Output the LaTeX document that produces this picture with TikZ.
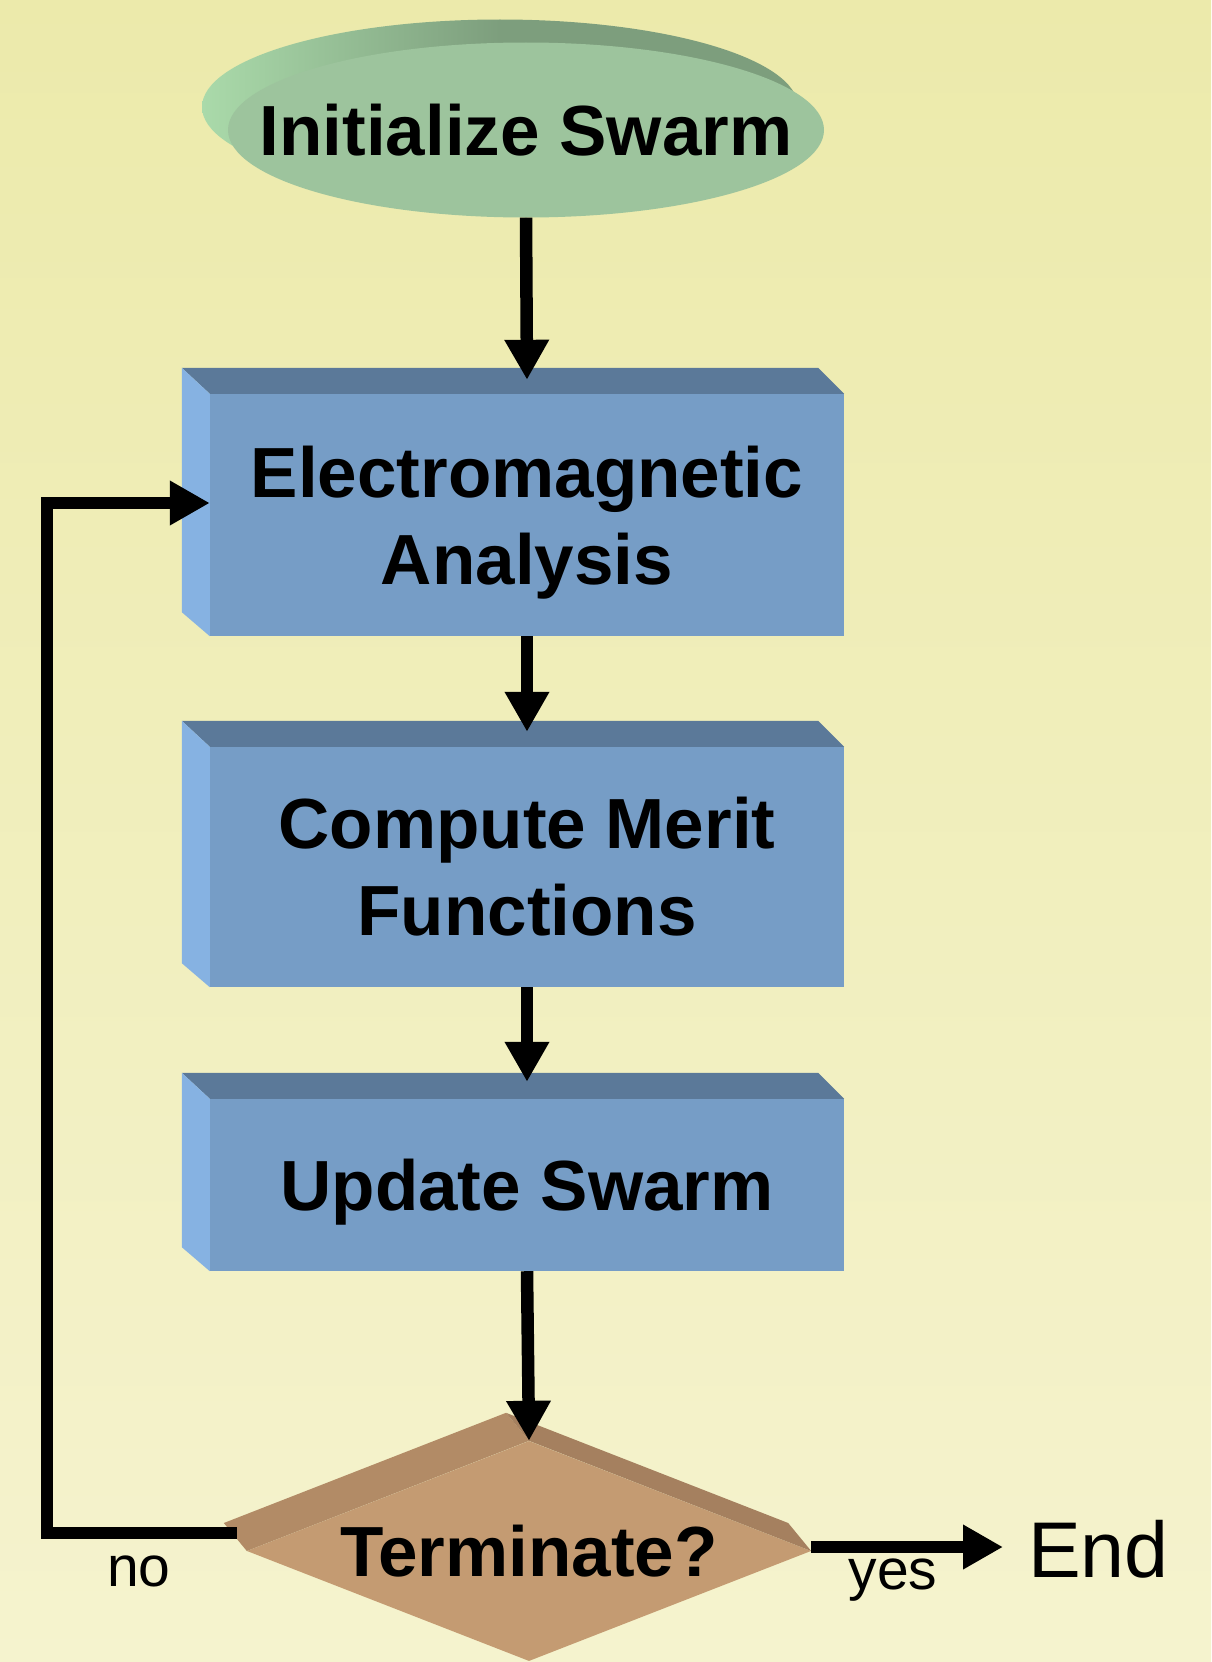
\documentclass[tikz,border=0pt]{standalone}
\usepackage{fontspec}
\setmainfont{Liberation Sans}
\usetikzlibrary{shapes.geometric,arrows.meta,calc}
\pgfdeclarelayer{canvas}
\pgfdeclarelayer{under}
\pgfsetlayers{canvas,under,main}

\definecolor{bgtop}{RGB}{236,234,171}
\definecolor{bgbot}{RGB}{245,243,206}
\definecolor{boxfront}{RGB}{118,157,198}
\definecolor{boxtop}{RGB}{91,121,153}
\definecolor{boxside}{RGB}{134,178,226}
\definecolor{ovalfront}{RGB}{157,196,157}
\definecolor{ovalrim}{RGB}{125,158,125}
\definecolor{ovalhi}{RGB}{170,218,170}
\definecolor{decfront}{RGB}{196,155,114}
\definecolor{decleft}{RGB}{178,139,102}
\definecolor{decright}{RGB}{165,128,95}

\newcommand\flowfont{\fontsize{71}{87}\selectfont\bfseries}

\begin{document}
\begin{tikzpicture}[x=1pt,y=-1pt,
  stepbox/.style={rectangle, fill=boxfront, minimum width=634pt,
    inner sep=0pt, align=center, font=\flowfont},
  flow/.style={line width=12.5pt, -{Triangle[length=40pt,width=42pt]}},
  lbl/.style={font=\fontsize{57}{60}\selectfont, anchor=base, inner sep=0pt}]

\useasboundingbox (0,0) rectangle (1211,1662);
\begin{pgfonlayer}{canvas}
  \shade[top color=bgtop, bottom color=bgbot] (0,0) rectangle (1211,1662);
\end{pgfonlayer}

% start oval
\node[ellipse, fill=ovalfront, minimum width=596pt, minimum height=175pt,
      inner sep=0pt, font=\flowfont] (init) at (526,130)
      {\makebox[0pt]{\raisebox{-2pt}{Initialize Swarm}}};
\begin{pgfonlayer}{under}
  \shade[left color=ovalhi, right color=ovalrim, middle color=ovalrim]
    ($(init.center)+(-26,-23)$) ellipse [x radius=298, y radius=87.5];
\end{pgfonlayer}

% process blocks
\node[stepbox, minimum height=242pt, text depth=0pt] (ema) at (527,515)
  {Electromagnetic\\Analysis};
\node[stepbox, minimum height=240pt] (merit) at (527,867)
  {\raisebox{-4pt}{Compute Merit}\\\raisebox{-4pt}{Functions}};
\node[stepbox, minimum height=172pt, text depth=0pt] (upd) at (527,1185)
  {Update Swarm};

\foreach \b in {ema,merit,upd} {
  \fill[boxtop] ($(\b.north west)+(-28,-26)$) -- ($(\b.north east)+(-26,-26)$)
    -- (\b.north east) -- (\b.north west) -- cycle;
  \fill[boxside] ($(\b.north west)+(-28,-26)$) -- (\b.north west)
    -- (\b.south west) -- ($(\b.south west)+(-28,-24)$) -- cycle;
}

% decision
\node[diamond, fill=decfront, minimum width=564pt, minimum height=220pt,
      inner sep=0pt, shape aspect=1, font=\flowfont] (term) at (529,1551)
      {\makebox[0pt]{\raisebox{-3pt}{Terminate?}}};
\fill[decleft] (term.west) -- ($(term.west)+(-23,-28)$)
  -- ($(term.north)+(-23,-28)$) -- (term.north) -- cycle;
\fill[decright] (term.north) -- ($(term.north)+(-23,-28)$)
  -- ($(term.east)+(-23,-28)$) -- (term.east) -- cycle;

% labels
\node[lbl] (nolab) at (139,1586) {no};
\node[lbl] (yeslab) at (893,1589) {yes};
\node[font=\fontsize{79}{80}\selectfont, anchor=base west, inner sep=0pt,
      outer xsep=25pt] (endnode) at (1003,1577) {End};

% connectors
\draw[flow] (init.south) -- ($(ema.north)+(0,-14)$);
\draw[flow] (ema.south) -- ($(merit.north)+(0,-15)$);
\draw[flow] (merit.south) -- ($(upd.north)+(0,-17)$);
\draw[flow] (upd.south) -- (term.north);

\coordinate (nostart) at ($(term.west)+(-10,-18)$);
\coordinate (loopx) at (47,0);
\coordinate (emain) at ($(ema.west)+(0,-12)$);
\draw[flow] (nostart) -- (nostart -| loopx) |- (emain);

\coordinate (yesstart) at ($(term.east)+(0,-4)$);
\draw[flow] (yesstart) -- (yesstart -| endnode.west);
\end{tikzpicture}
\end{document}
